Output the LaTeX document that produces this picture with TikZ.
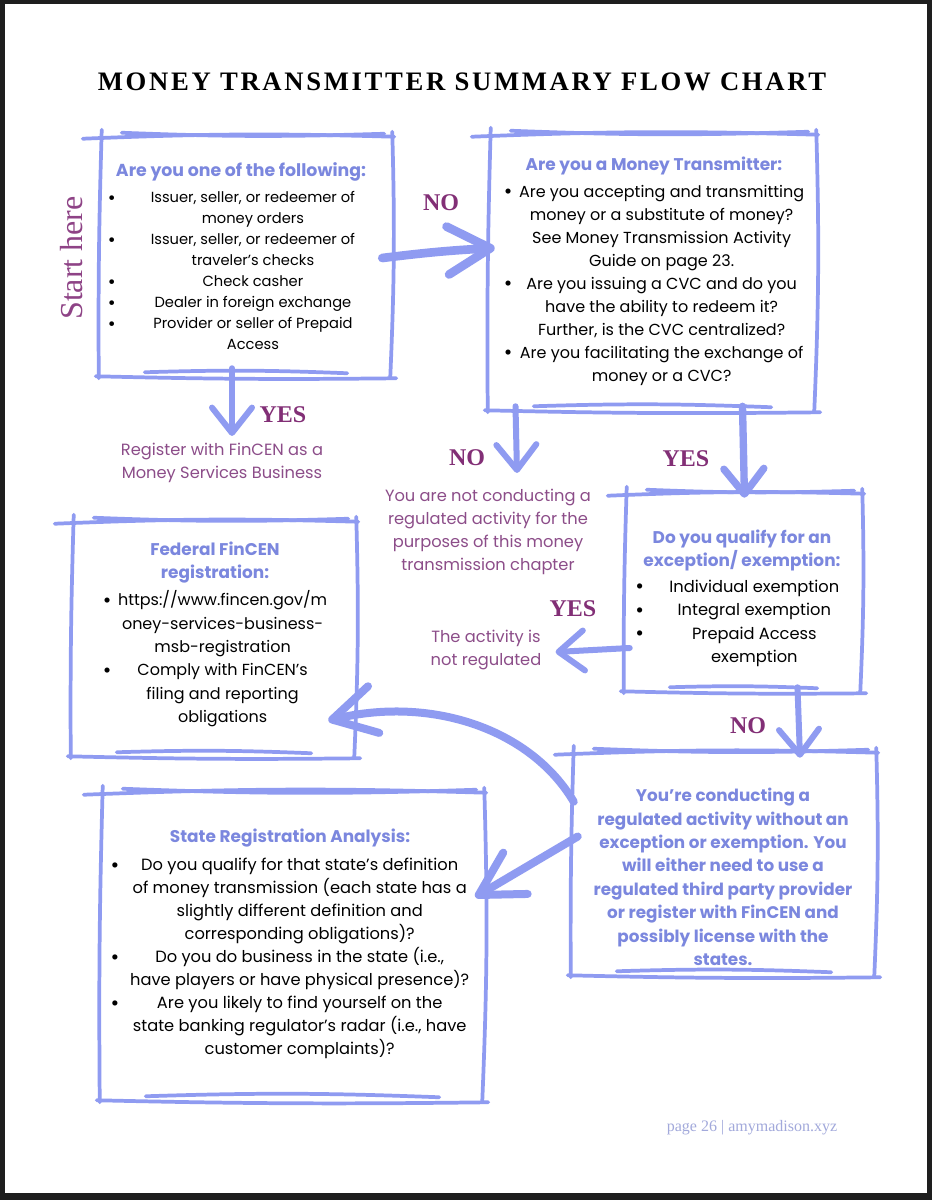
\documentclass[tikz,border=0pt]{standalone}
\usepackage{fontspec}
\usepackage{graphicx}
\setmainfont{Poppins}
\newfontfamily\headfont{Liberation Serif}
\newfontfamily\titlefont[LetterSpace=10]{Liberation Serif}
\usetikzlibrary{arrows.meta,calc,fit,positioning}

\definecolor{framecol}{HTML}{8F9BF1}
\definecolor{headcol}{HTML}{7B87DE}
\definecolor{answercol}{HTML}{822F76}
\definecolor{notecol}{HTML}{8C4D89}
\definecolor{startcol}{HTML}{8E4386}
\definecolor{footcol}{HTML}{A2A9DB}
\definecolor{pagerim}{HTML}{1E1E1E}

\newcommand{\boxhead}[2][12.7]{{\fontsize{#1}{16}\selectfont\bfseries\color{headcol}#2}}
\newcommand{\bul}{\raisebox{-1.2pt}{\scalebox{1.3}{\textbullet}}}

% hand drawn frame round a fitted node
\newcommand{\sketchframe}[1]{%
  \draw[sketch] ($(#1.north west)+(-17,3)$) to[bend left=2] ($(#1.north east)+(2,1)$);
  \draw[sketch] ($(#1.north west)+(22,-3)$) to[bend right=2] ($(#1.north east)+(-8,-2)$);
  \draw[sketch] ($(#1.north west)+(2,-6)$) to[bend right=1] ($(#1.south west)+(-1,2)$);
  \draw[sketch] ($(#1.north east)+(0,-4)$) to[bend left=2] ($(#1.south east)+(-2,1)$);
  \draw[sketch] ($(#1.south west)+(-4,0)$) to[bend right=1] ($(#1.south east)+(4,2)$);
  \draw[sketch] ($(#1.south west)+(45,-4)$) to[bend left=2] ($(#1.south east)+(-45,-3)$);
}

\tikzset{
  frame/.style={inner sep=0pt, draw=none},
  sketch/.style={draw=framecol, line width=2.8pt, line cap=round},
  brush/.style={draw=framecol, line width=#1, line cap=round, line join=round},
  smallhead/.style={-{Straight Barb[length=19pt, width=30pt, round]}},
  bighead/.style={-{Straight Barb[length=32pt, width=36pt, round]}},
  boxtext/.style={inner sep=0pt, text=black},
  noyes/.style={font=\headfont\bfseries\fontsize{18}{18}\selectfont, text=answercol, inner sep=0pt},
  note/.style={font=\fontsize{12.2}{17.25}\selectfont, text=notecol, align=center, inner sep=0pt}
}

\begin{document}
\begin{tikzpicture}[x=0.75pt, y=-0.75pt]
\fill[pagerim] (0,0) rectangle (932,1200);
\fill[white] (5,4) rectangle (927,1193);
\useasboundingbox (0,0) rectangle (932,1200);

\node[font=\titlefont\bfseries\fontsize{20}{20}\selectfont] (title) at (462,82) {MONEY TRANSMITTER SUMMARY FLOW CHART};
\node[rotate=90, font=\headfont\fontsize{24}{24}\selectfont, text=startcol] (start) at (72,258) {Start here};

% frames
\node[frame, fit={(100,136) (392,376)}] (member) {};
\node[frame, fit={(489,134) (816,410)}] (transmitter) {};
\node[frame, fit={(625,493) (862,691)}] (exempt) {};
\node[frame, fit={(72,521) (356,756)}] (federal) {};
\node[frame, fit={(572,752) (876,975)}] (regulated) {};
\node[frame, fit={(101,792) (484,1100)}] (stateq) {};
\foreach \b in {member,transmitter,exempt,federal,regulated,stateq}
  \sketchframe{\b};

% box texts
\node[boxtext, font=\fontsize{11}{15.75}\selectfont] (membertxt) at (241,259) {%
\begin{tabular}{@{}c@{\hspace{12pt}}c@{}}
\multicolumn{2}{c}{\boxhead[13]{Are you one of the following:}}\\[4pt]
\bul & Issuer, seller, or redeemer of\\
 & money orders\\
\bul & Issuer, seller, or redeemer of\\
 & traveler’s checks\\
\bul & Check casher\\
\bul & Dealer in foreign exchange\\
\bul & Provider or seller of Prepaid\\
 & Access
\end{tabular}};

\node[boxtext, font=\fontsize{12}{17.25}\selectfont] (transmittertxt) at (654,271) {%
\begin{tabular}{@{}c@{\hspace{5pt}}c@{}}
\multicolumn{2}{c}{\boxhead{Are you a Money Transmitter:}}\\[3pt]
\bul & Are you accepting and transmitting\\
 & money or a substitute of money?\\
 & See Money Transmission Activity\\
 & Guide on page 23.\\
\bul & Are you issuing a CVC and do you\\
 & have the ability to redeem it?\\
 & Further, is the CVC centralized?\\
\bul & Are you facilitating the exchange of\\
 & money or a CVC?
\end{tabular}};

\node[boxtext, font=\fontsize{12.2}{17.5}\selectfont] (exempttxt) at (742,598) {%
\begin{tabular}{@{}c@{\hspace{12pt}}c@{}}
\multicolumn{2}{c}{\boxhead{Do you qualify for an}}\\
\multicolumn{2}{c}{\boxhead{exception/ exemption:}}\\[2pt]
\bul & Individual exemption\\
\bul & Integral exemption\\
\bul & Prepaid Access\\
 & exemption
\end{tabular}};

\node[boxtext, font=\fontsize{12}{17.5}\selectfont] (federaltxt) at (215,634) {%
\begin{tabular}{@{}c@{\hspace{5pt}}c@{}}
\multicolumn{2}{c}{\boxhead{Federal FinCEN}}\\
\multicolumn{2}{c}{\boxhead{registration:}}\\[3pt]
\bul & https://www.fincen.gov/m\\
 & oney-services-business-\\
 & msb-registration\\
\bul & Comply with FinCEN’s\\
 & filing and reporting\\
 & obligations
\end{tabular}};

\node[boxtext, font=\bfseries\fontsize{12.6}{17.6}\selectfont, text=headcol, align=center] (regulatedtxt) at (723,877) {%
You’re conducting a\\
regulated activity without an\\
exception or exemption. You\\
will either need to use a\\
regulated third party provider\\
or register with FinCEN and\\
possibly license with the\\
states.};

\node[boxtext, font=\fontsize{12.2}{17.25}\selectfont] (stateqtxt) at (290,944) {%
\begin{tabular}{@{}c@{\hspace{8pt}}c@{}}
\multicolumn{2}{c}{\boxhead{State Registration Analysis:}}\\[4pt]
\bul & Do you qualify for that state’s definition\\
 & of money transmission (each state has a\\
 & slightly different definition and\\
 & corresponding obligations)?\\
\bul & Do you do business in the state (i.e.,\\
 & have players or have physical presence)?\\
\bul & Are you likely to find yourself on the\\
 & state banking regulator’s radar (i.e., have\\
 & customer complaints)?
\end{tabular}};

% outcome notes
\node[note] (msb) at (222,463) {Register with FinCEN as a\\Money Services Business};
\node[note] (notactivity) at (488,532) {You are not conducting a\\regulated activity for the\\purposes of this money\\transmission chapter};
\node[note] (notreg) at (486,650) {The activity is\\not regulated};

% answers
\node[noyes] (noone) at (441,203) {NO};
\node[noyes] (yesone) at (283,415) {YES};
\node[noyes] (notwo) at (467,458) {NO};
\node[noyes] (yestwo) at (686,459) {YES};
\node[noyes] (yesthree) at (573,609) {YES};
\node[noyes] (nothree) at (748,726) {NO};

% connectors
\draw[brush=6.5pt, bighead] ($(member.east)+(-10,2)$) to[bend left=2] ($(transmitter.west)+(6,-24)$);
\draw[brush=4.5pt, smallhead] ($(member.south)+(-14,-8)$) -- ($(msb.north)+(10,-7)$);
\draw[brush=4.5pt, smallhead] ($(transmitter.south)+(-137,-4)$) -- ($(notactivity.north)+(29,-16)$);
\draw[brush=5.5pt, smallhead] ($(transmitter.south)+(90,-4)$) -- ($(exempt.north)+(1,5)$);
\draw[brush=4.5pt, smallhead] ($(exempt.west)+(5,56)$) -- ($(notreg.east)+(14,2)$);
\draw[brush=4.5pt, smallhead] ($(exempt.south)+(54,-4)$) -- ($(regulated.north)+(76,6)$);
\draw[brush=6pt, bighead] ($(regulated.north west)+(2,50)$) .. controls (530,728) and (430,696) .. ($(federal.east)+(-28,82)$);
\draw[brush=6pt, bighead] ($(regulated.west)+(6,-27)$) -- ($(stateq.east)+(-9,-49)$);

\node[font=\headfont\fontsize{12}{12}\selectfont, text=footcol] (footer) at (752,1128) {page 26 | amymadison.xyz};
\end{tikzpicture}
\end{document}
